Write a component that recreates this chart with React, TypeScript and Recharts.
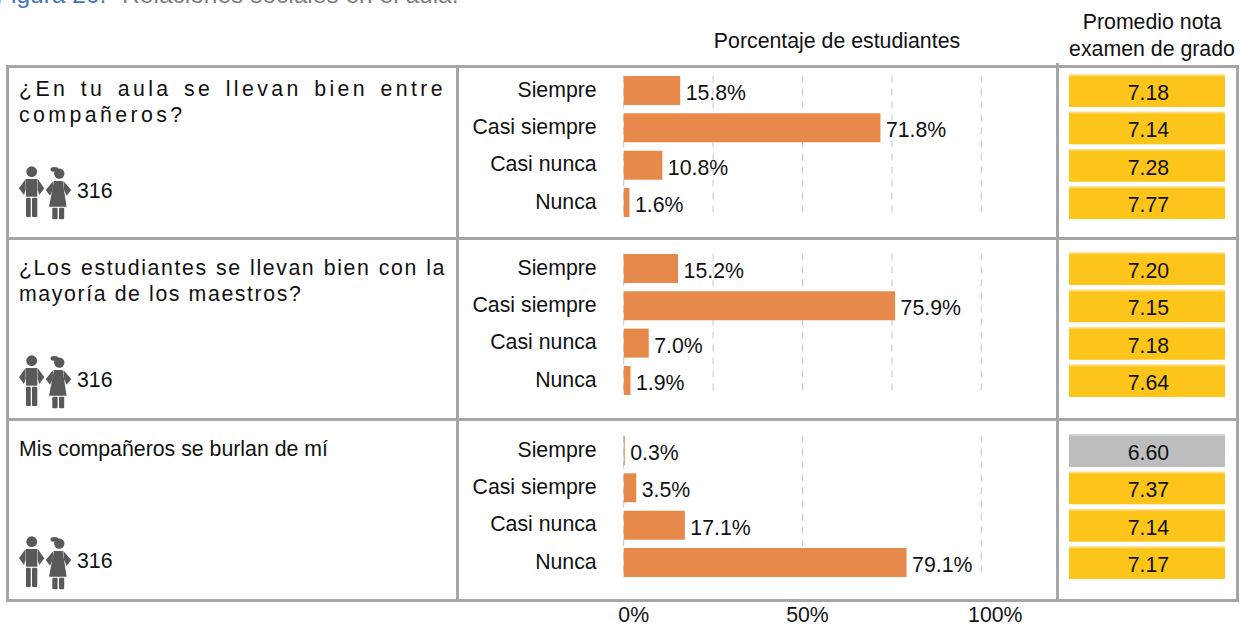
import { BarChart, Bar, XAxis, YAxis, CartesianGrid, Cell, LabelList } from 'recharts';

const FONT = '"Liberation Sans", Arial, sans-serif';
const LINE = '#a6a6a6';
const TEXT_SIZE = 21.3;

const categories = ['Siempre', 'Casi siempre', 'Casi nunca', 'Nunca'];

const aulaPct = [15.8, 71.8, 10.8, 1.6];
const maestrosPct = [15.2, 75.9, 7.0, 1.9];
const burlanPct = [0.3, 3.5, 17.1, 79.1];

const aulaGrades = [7.18, 7.14, 7.28, 7.77];
const maestrosGrades = [7.2, 7.15, 7.18, 7.64];
const burlanGrades = [6.6, 7.37, 7.14, 7.17];

const greyedGrades = [6.6];

const pctTicks = [0, 25, 50, 75, 100];
const labelTicks = [0, 50, 100];
const students = '316';

const buildRows = (pct: number[], grades: number[]) =>
  categories.map((name, i) => ({ name, pct: pct[i], grade: grades[i], band: 1 }));

// the printed axis labels do not sit under their gridlines in the original
const tickShift: Record<number, number> = { 0: 10, 50: 5, 100: 14 };

function ShiftedTick({ x, y, payload }: any) {
  return (
    <text x={x + tickShift[payload.value]} y={y} dy={33.2} textAnchor="middle" fontSize={TEXT_SIZE} fontFamily={FONT} fill="#111">
      {payload.value}%
    </text>
  );
}

function PctChart({ rows, top, withAxis }: { rows: any[]; top: number; withAxis?: boolean }) {
  return (
    <div style={{ position: 'absolute', left: 457, top }}>
      <BarChart
        width={600}
        height={withAxis ? 195.4 : 149.3}
        data={rows}
        layout="vertical"
        margin={{ top: 0, right: 75.7, bottom: 0, left: 0 }}
        barSize={29}
      >
        <CartesianGrid
          horizontal={false}
          strokeDasharray="7 6"
          stroke="#c6c6c6"
          strokeWidth={1}
          y={3.5}
          height={139}
        />
        <XAxis
          type="number"
          domain={[0, 100]}
          ticks={withAxis ? labelTicks : pctTicks}
          hide={!withAxis}
          height={withAxis ? 46.1 : 0}
          axisLine={false}
          tickLine={false}
          tick={<ShiftedTick />}
          interval={0}
        />
        <YAxis
          type="category"
          dataKey="name"
          width={166.7}
          axisLine={false}
          tickLine={false}
          tickMargin={21}
          interval={0}
          tick={{ fontSize: TEXT_SIZE, fontFamily: FONT, fill: '#111', dy: -1.5 }}
        />
        <Bar dataKey="pct" fill="#e8894c" isAnimationActive={false}>
          <LabelList
            dataKey="pct"
            position="right"
            offset={5.5}
            formatter={(v: number) => `${v.toFixed(1)}%`}
            style={{ fontSize: TEXT_SIZE, fontFamily: FONT, fill: '#111' }}
            dy={2}
          />
        </Bar>
      </BarChart>
    </div>
  );
}

function GradeChart({ rows, top }: { rows: any[]; top: number }) {
  return (
    <div style={{ position: 'absolute', left: 1069, top }}>
      <BarChart
        width={156}
        height={149.3}
        data={rows}
        layout="vertical"
        margin={{ top: 0, right: 0, bottom: 0, left: 0 }}
        barSize={33}
      >
        <defs>
          <linearGradient id="gradeYellow" x1="0" y1="0" x2="0" y2="1">
            <stop offset="0" stopColor="#fdeebc" />
            <stop offset="0.09" stopColor="#fdc51a" />
          </linearGradient>
          <linearGradient id="gradeGrey" x1="0" y1="0" x2="0" y2="1">
            <stop offset="0" stopColor="#d8d9db" />
            <stop offset="0.09" stopColor="#bbbdbf" />
          </linearGradient>
        </defs>
        <XAxis type="number" domain={[0, 1]} hide />
        <YAxis type="category" dataKey="name" hide />
        <Bar dataKey="band" isAnimationActive={false}>
          {rows.map((r) => (
            <Cell key={r.name} fill={greyedGrades.includes(r.grade) ? 'url(#gradeGrey)' : 'url(#gradeYellow)'} />
          ))}
          <LabelList
            dataKey="grade"
            position="center"
            formatter={(v: number) => v.toFixed(2)}
            style={{ fontSize: TEXT_SIZE, fontFamily: FONT, fill: '#111' }}
            dx={1.5}
            dy={2}
          />
        </Bar>
      </BarChart>
    </div>
  );
}

function Kids({ top }: { top: number }) {
  return (
    <svg width={54} height={56} style={{ position: 'absolute', left: 19, top }} fill="#595959">
      <circle cx={12.7} cy={6.7} r={5.4} />
      <polygon points="7,14 18.3,14 18.3,31.7 7,31.7" />
      <polygon points="6.6,14 0,23.3 5,30 6.6,25" />
      <polygon points="18.7,14 25.3,23.3 20.3,30 18.7,25" />
      <rect x={7} y={32.7} width={4.8} height={19.3} rx={1} />
      <rect x={13} y={32.7} width={5.3} height={19.3} rx={1} />
      <circle cx={40.3} cy={8.6} r={5.2} />
      <ellipse cx={35.5} cy={4.4} rx={4} ry={2.4} />
      <polygon points="35,16 43.6,16 47.6,41.7 30,41.7" />
      <polygon points="34.3,16 26.7,25 31,30.7 33.6,25" />
      <polygon points="44.3,16 52.3,25 47.7,30.7 45,25" />
      <rect x={33.3} y={42.7} width={5.3} height={11.5} rx={1} />
      <rect x={40} y={42.7} width={5.2} height={11.5} rx={1} />
    </svg>
  );
}

function Question({ text, top, spacing }: { text: string; top: number; spacing: number }) {
  return (
    <div
      style={{
        position: 'absolute',
        left: 19,
        top,
        width: 427,
        fontSize: TEXT_SIZE,
        lineHeight: '26px',
        letterSpacing: spacing,
        textAlign: 'justify',
        color: '#111',
      }}
    >
      {text}
    </div>
  );
}

function Count({ top }: { top: number }) {
  return <div style={{ position: 'absolute', left: 77, top, fontSize: TEXT_SIZE, lineHeight: '24px', color: '#111' }}>{students}</div>;
}

function Rule({ left, top, width, height }: { left: number; top: number; width: number; height: number }) {
  return <div style={{ position: 'absolute', left, top, width, height, background: LINE }} />;
}

export default function App() {
  return (
    <div style={{ position: 'absolute', left: 0, top: 0, width: 1240, height: 627, overflow: 'hidden', background: '#fff', fontFamily: FONT }}>
      <div style={{ position: 'absolute', left: -4, top: -19, fontSize: 24.5, lineHeight: '28px', whiteSpace: 'nowrap', color: '#7f7f7f' }}>
        <span style={{ color: '#4472c4', marginRight: 9 }}>Figura 20.</span> Relaciones sociales en el aula.
      </div>

      <div style={{ position: 'absolute', left: 637, width: 400, top: 29, textAlign: 'center', fontSize: TEXT_SIZE, lineHeight: '24px', color: '#111' }}>
        Porcentaje de estudiantes
      </div>
      <div style={{ position: 'absolute', left: 1052, width: 200, top: 9, textAlign: 'center', fontSize: TEXT_SIZE, lineHeight: '27px', color: '#111' }}>
        Promedio nota
        <br />
        examen de grado
      </div>

      <Rule left={6} top={65} width={1233} height={3} />
      <Rule left={6} top={237} width={1233} height={3} />
      <Rule left={6} top={418} width={1233} height={3} />
      <Rule left={6} top={599} width={1233} height={3} />
      <Rule left={6} top={65} width={3} height={537} />
      <Rule left={456} top={65} width={3} height={537} />
      <Rule left={1056} top={63} width={3} height={539} />
      <Rule left={1236} top={65} width={3} height={537} />

      <Question text="¿En tu aula se llevan bien entre compañeros?" top={76} spacing={3.4} />
      <Question text="¿Los estudiantes se llevan bien con la mayoría de los maestros?" top={255} spacing={1.6} />
      <Question text="Mis compañeros se burlan de mí" top={436} spacing={0} />

      <Kids top={165} />
      <Kids top={354} />
      <Kids top={535} />
      <Count top={179} />
      <Count top={368} />
      <Count top={549} />

      <PctChart rows={buildRows(aulaPct, aulaGrades)} top={71.8} />
      <PctChart rows={buildRows(maestrosPct, maestrosGrades)} top={250} />
      <PctChart rows={buildRows(burlanPct, burlanGrades)} top={431.6} withAxis />

      <GradeChart rows={buildRows(aulaPct, aulaGrades)} top={71.8} />
      <GradeChart rows={buildRows(maestrosPct, maestrosGrades)} top={250} />
      <GradeChart rows={buildRows(burlanPct, burlanGrades)} top={431.6} />
    </div>
  );
}
